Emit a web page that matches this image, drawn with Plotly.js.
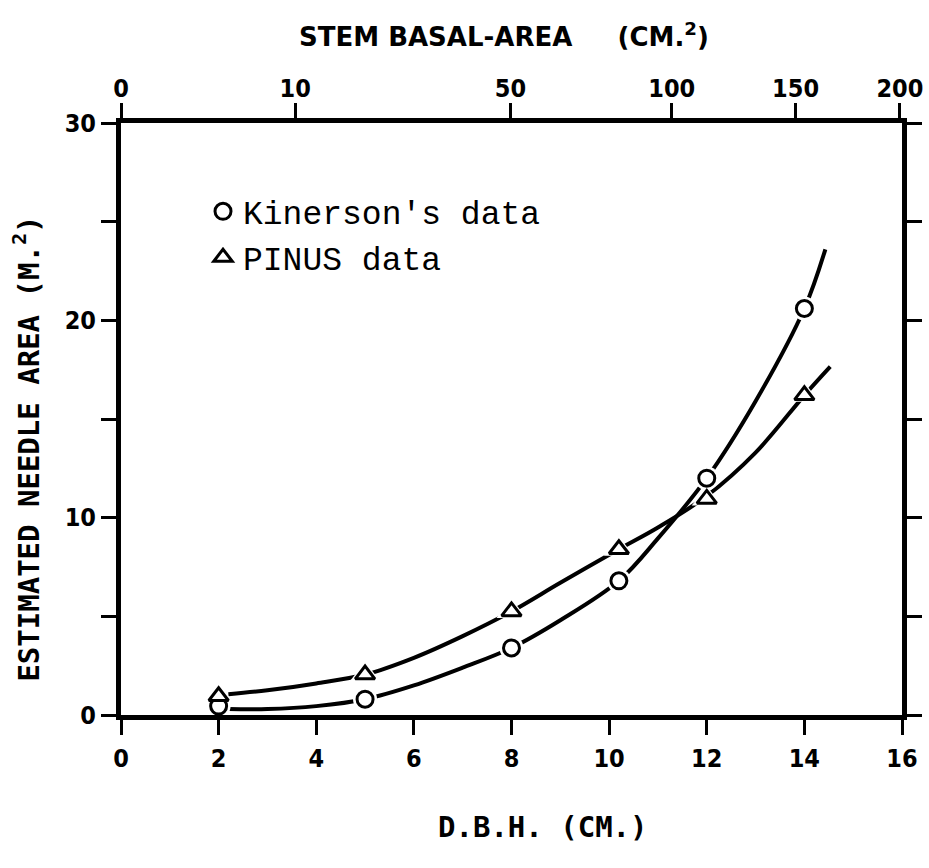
<!DOCTYPE html>
<html>
<head>
<meta charset="utf-8">
<script src="https://cdn.plot.ly/plotly-3.0.1.min.js"></script>
<style>html,body{margin:0;padding:0;background:#fff;}</style>
</head>
<body>
<div id="chart" style="width:929px;height:868px;"></div>
<script>
// ---- data ----
var dbhTicks = [0, 2, 4, 6, 8, 10, 12, 14, 16];
var dbhTickText = ['0', '2', '4', '6', '8', '10', '12', '14', '16'];
var basalTicks = [0, 10, 50, 100, 150, 200];           // cm^2
var basalTickText = ['0', '10', '50', '100', '150', '200'];
var areaTicks = [0, 5, 10, 15, 20, 25, 30];
var areaTickText = ['0', '', '10', '', '20', '', '30'];

var kinersonX = [2, 5, 8, 10.2, 12, 14];
var kinersonY = [0.45, 0.8, 3.4, 6.8, 12.0, 20.6];
var pinusX = [2, 5, 8, 10.2, 12, 14];
var pinusY = [0.95, 2.05, 5.25, 8.4, 10.95, 16.2];

// fitted (hand-drawn) curves
var kinersonCurveX = [2.2, 3, 4, 5, 6, 7, 8, 9, 10.2, 11, 12, 13, 14, 14.43];
var kinersonCurveY = [0.3, 0.3, 0.45, 0.8, 1.5, 2.4, 3.4, 4.8, 6.8, 8.95, 12.0, 15.9, 20.6, 23.6];
var pinusCurveX = [2.2, 3, 4, 5, 6, 7, 8, 9, 10.2, 11, 12, 13, 14, 14.53];
var pinusCurveY = [1.05, 1.25, 1.6, 2.05, 2.9, 4.0, 5.25, 6.7, 8.4, 9.5, 11.1, 13.3, 16.2, 17.65];

// basal area (cm^2) -> diameter (cm) for placing the top scale
var basalPos = basalTicks.map(function (b) { return Math.sqrt(4 * b / Math.PI); });

var tickFont = {family: 'DejaVu Sans Condensed, DejaVu Sans, sans-serif', size: 25, color: '#000', weight: 'bold'};

var traces = [
  {x: kinersonCurveX, y: kinersonCurveY, mode: 'lines', line: {color: '#000', width: 4, shape: 'spline', smoothing: 1}, showlegend: false, hoverinfo: 'skip'},
  {x: pinusCurveX, y: pinusCurveY, mode: 'lines', line: {color: '#000', width: 4, shape: 'spline', smoothing: 1}, showlegend: false, hoverinfo: 'skip'},
  // white halos so the lines break around the symbols
  {x: kinersonX, y: kinersonY, xaxis: 'x2', mode: 'markers', marker: {symbol: 'circle', size: 24, color: '#fff', line: {width: 0}}, showlegend: false, hoverinfo: 'skip'},
  {x: pinusX, y: pinusY, xaxis: 'x2', mode: 'markers', marker: {symbol: 'triangle-up', size: 26, color: '#fff', line: {width: 0}}, showlegend: false, hoverinfo: 'skip'},
  {x: kinersonX, y: kinersonY, xaxis: 'x2', mode: 'markers', name: "Kinerson's data", marker: {symbol: 'circle', size: 16, color: '#fff', line: {color: '#000', width: 3}}},
  {x: pinusX, y: pinusY, xaxis: 'x2', mode: 'markers', name: 'PINUS data', marker: {symbol: 'triangle-up', size: 17, color: '#fff', line: {color: '#000', width: 3}}}
];

var layout = {
  width: 929, height: 868,
  margin: {l: 121, r: 27, t: 123, b: 153},
  paper_bgcolor: '#fff', plot_bgcolor: '#fff',
  showlegend: true,
  legend: {x: 0.105, y: 0.898, xanchor: 'left', yanchor: 'top', bgcolor: 'rgba(0,0,0,0)',
           font: {family: 'Liberation Mono, Courier New, monospace', size: 33, color: '#000'},
           tracegroupgap: 0},
  xaxis: {range: [0, 16], tickvals: dbhTicks, ticktext: dbhTickText, ticks: 'outside', ticklen: 15, tickwidth: 3,
          tickcolor: '#000', showline: true, linewidth: 5, linecolor: '#000', showgrid: false, zeroline: false,
          tickfont: tickFont, ticklabelstandoff: 2, fixedrange: true},
  xaxis2: {range: [0, 16], matches: 'x', overlaying: 'x', side: 'top', tickvals: basalPos, ticktext: basalTickText,
           ticks: 'outside', ticklen: 15, tickwidth: 3, tickcolor: '#000', showline: true, linewidth: 5,
           linecolor: '#000', showgrid: false, zeroline: false, tickfont: tickFont, ticklabelstandoff: -4},
  yaxis: {range: [0, 30], tickvals: areaTicks, ticktext: areaTickText, ticks: 'outside', ticklen: 15, tickwidth: 3,
          tickcolor: '#000', showline: true, linewidth: 5, linecolor: '#000', mirror: 'ticks', showgrid: false,
          zeroline: false, tickfont: tickFont, ticklabelstandoff: 0, fixedrange: true},
  annotations: [
    {text: 'STEM BASAL-AREA\u00a0\u00a0\u00a0\u00a0\u00a0(CM.<sup>2</sup>)', xref: 'paper', yref: 'paper', x: 0.49, y: 1, yshift: 88,
     xanchor: 'center', yanchor: 'middle', showarrow: false,
     font: {family: 'DejaVu Sans, sans-serif', size: 26, color: '#000', weight: 'bold'}},
    {text: 'D.B.H. (CM.)', xref: 'paper', yref: 'paper', x: 0.54, y: 0, yshift: -112,
     xanchor: 'center', yanchor: 'middle', showarrow: false,
     font: {family: 'DejaVu Sans Mono, monospace', size: 29, color: '#000', weight: 'bold'}},
    {text: 'ESTIMATED NEEDLE AREA (M.<sup>2</sup>)', xref: 'paper', yref: 'paper', x: 0, xshift: -95, y: 0.45,
     textangle: -90, xanchor: 'center', yanchor: 'middle', showarrow: false,
     font: {family: 'DejaVu Sans Mono, monospace', size: 29, color: '#000', weight: 'bold'}}
  ]
};

Plotly.newPlot('chart', traces, layout, {staticPlot: true, displayModeBar: false});
</script>
</body>
</html>
